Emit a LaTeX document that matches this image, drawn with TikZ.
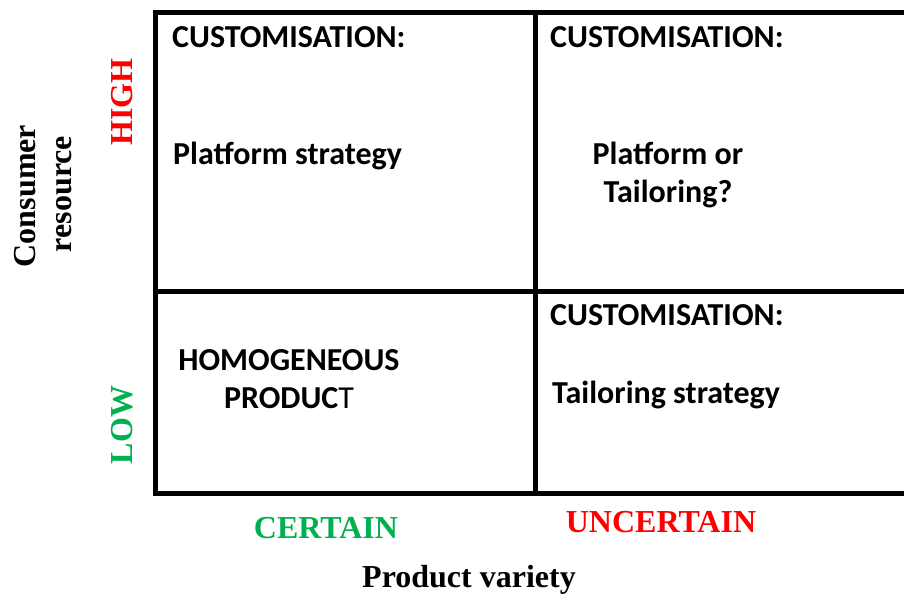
\documentclass[tikz,border=0pt]{standalone}
\usepackage{fontspec}
\setmainfont{Carlito}
\newfontfamily\tnr{Liberation Serif}
\definecolor{offred}{HTML}{FF0000}
\definecolor{offgreen}{HTML}{00B050}
\begin{document}
\begin{tikzpicture}[x=1pt,y=-1pt,
  grid/.style={line width=5pt,line join=miter,line cap=rect},
  celltext/.style={inner sep=0pt,font=\fontsize{32}{38}\selectfont\bfseries},
  axistext/.style={inner sep=0pt,font=\fontsize{32}{38}\selectfont\tnr\bfseries},
  ]
\useasboundingbox (0,0) rectangle (904,595);
% grid
\coordinate (tl) at (155,12);
\coordinate (tr) at (906,12);
\coordinate (bl) at (155,493);
\coordinate (br) at (906,493);
\coordinate (mt) at (535,12);
\coordinate (mb) at (535,493);
\coordinate (ml) at (155,291);
\coordinate (mr) at (906,291);
\draw[grid] (tr) -- (tl) -- (bl) -- (br);
\draw[grid] (mt) -- (mb);
\draw[grid] (ml) -- (mr);
% cell texts
\node[celltext,anchor=base west] (c1) at (172,47) {CUSTOMISATION:};
\node[celltext,anchor=base west] (c2) at (550,47) {CUSTOMISATION:};
\node[celltext,anchor=base west] (p1) at (173,164) {Platform strategy};
\node[celltext,anchor=base] (p2a) at (668,164) {Platform or};
\node[celltext,anchor=base] (p2b) at (668,202) {Tailoring?};
\node[celltext,anchor=base west] (c3) at (550,325) {CUSTOMISATION:};
\node[celltext,anchor=base west] (t3) at (552,403) {Tailoring strategy};
\node[celltext,anchor=base] (h1) at (289,370) {HOMOGENEOUS};
\node[celltext,anchor=base] (h2) at (289,408) {PRODUC\mdseries T};
% axis labels
\node[axistext,rotate=90] (cons) at (25,196) {Consumer};
\node[axistext,rotate=90] (res) at (64,194) {resource};
\node[axistext,rotate=90,text=offred] (high) at (122,102) {HIGH};
\node[axistext,rotate=90,text=offgreen] (low) at (122,425) {LOW};
\node[axistext,text=offgreen] (cert) at (326,528) {CERTAIN};
\node[axistext,text=offred] (unc) at (661,522) {UNCERTAIN};
\node[axistext] (pv) at (469,580) {Product variety};
\end{tikzpicture}
\end{document}
